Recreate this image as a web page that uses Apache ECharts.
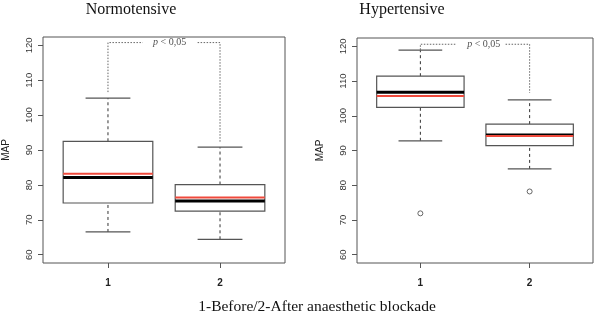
<!DOCTYPE html>
<html>
<head>
<meta charset="utf-8">
<script src="https://cdn.jsdelivr.net/npm/echarts@6/dist/echarts.min.js"></script>
<style>
  html, body { margin: 0; padding: 0; background: #fff; }
  #chart { width: 600px; height: 314px; }
</style>
</head>
<body>
<div id="chart"></div>
<script>
// groups on the x axis
const groups = [1, 2];
const yTicks = [60, 70, 80, 90, 100, 110, 120];

// box stats: [min, q1, median, q3, max]
const normoBoxes = [
  [66.5, 74.8, 82.1, 92.5, 104.9],
  [64.4, 72.5, 75.4, 80.1, 90.8]
];
const normoMeans = [83.2, 76.4];
const normoOutliers = [];

const hyperBoxes = [
  [92.8, 102.4, 106.8, 111.4, 118.9],
  [84.7, 91.4, 94.5, 97.6, 104.6]
];
const hyperMeans = [105.7, 94.2];
const hyperOutliers = [[1, 71.9], [2, 78.2]];

// significance brackets (dotted) and their labels
const normoBracketA = [[1, 106.6], [1, 120.8], [1.31, 120.8]];
const normoBracketB = [[1.8, 120.8], [2, 120.8], [2, 92.1]];
const normoP = [[1.55, 120.8]];
const hyperBracketA = [[1, 119], [1, 120.6], [1.33, 120.6]];
const hyperBracketB = [[1.78, 120.6], [2, 120.6], [2, 106.6]];
const hyperP = [[1.58, 120.6]];

const chart = echarts.init(document.getElementById('chart'));

function boxRender(means) {
  return function (params, api) {
    const x = api.value(0);
    const vals = [1, 2, 3, 4, 5].map(i => api.value(i));
    const half = 0.4, cap = 0.2;
    const p = v => api.coord([x, v]);
    const pl = (xx, v) => api.coord([xx, v]);
    const ln = (a, b, style) => ({ type: 'line', shape: { x1: a[0], y1: a[1], x2: b[0], y2: b[1] }, style });
    const dash = { stroke: '#333', lineWidth: 1, lineDash: [3, 3] };
    const solid = { stroke: '#555', lineWidth: 1.2 };
    const tl = pl(x - half, vals[3]);
    const br = pl(x + half, vals[1]);
    const mean = means[params.dataIndex];
    return {
      type: 'group',
      children: [
        ln(p(vals[0]), p(vals[1]), dash),
        ln(p(vals[3]), p(vals[4]), dash),
        ln(pl(x - cap, vals[0]), pl(x + cap, vals[0]), solid),
        ln(pl(x - cap, vals[4]), pl(x + cap, vals[4]), solid),
        { type: 'rect', shape: { x: tl[0], y: tl[1], width: br[0] - tl[0], height: br[1] - tl[1] },
          style: { fill: '#fff', stroke: '#555', lineWidth: 1.2 } },
        ln(pl(x - half, vals[2]), pl(x + half, vals[2]), { stroke: '#000', lineWidth: 3 }),
        ln(pl(x - half, mean), pl(x + half, mean), { stroke: '#f04a3c', lineWidth: 2 })
      ]
    };
  };
}

function xAxis(gi) {
  return {
    gridIndex: gi, type: 'value', min: 0.42, max: 2.58,
    splitLine: { show: false },
    axisLine: { show: false },
    axisTick: { show: true, length: 5, customValues: groups, lineStyle: { color: '#555' } },
    axisLabel: { customValues: groups, color: '#222', fontSize: 10, fontWeight: 'bold',
      fontFamily: 'Liberation Sans', margin: 15 }
  };
}
function yAxis(gi) {
  return {
    gridIndex: gi, type: 'value', min: 57.6, max: 122.4,
    name: 'MAP', nameLocation: 'middle', nameGap: 32, nameRotate: 90,
    nameTextStyle: { fontSize: 10, color: '#222', fontFamily: 'Liberation Sans' },
    splitLine: { show: false },
    axisLine: { show: false },
    axisTick: { show: true, length: 5, customValues: yTicks, lineStyle: { color: '#555' } },
    axisLabel: { customValues: yTicks, rotate: 90, color: '#333', fontSize: 9.5,
      fontFamily: 'Liberation Sans', margin: 9 }
  };
}

function dotted(gi, data) {
  return {
    type: 'line', xAxisIndex: gi, yAxisIndex: gi, data, symbol: 'none', silent: true,
    lineStyle: { type: [1.5, 1.5], color: '#666', width: 1 }, z: 1
  };
}
function pLabel(gi, data) {
  return {
    type: 'scatter', xAxisIndex: gi, yAxisIndex: gi, data, symbolSize: 0, silent: true,
    label: {
      show: true, position: 'inside',
      formatter: '{i|p} < 0,05',
      fontFamily: 'Liberation Serif', fontSize: 10, color: '#222',
      rich: { i: { fontStyle: 'italic', fontFamily: 'Liberation Serif', fontSize: 10, color: '#222' } }
    }
  };
}

function caption(x, y, text, size) {
  return {
    type: 'text', x, y,
    style: { text, font: size + 'px "Liberation Serif"', fill: '#111', align: 'center', verticalAlign: 'top' }
  };
}

chart.setOption({
  animation: false,
  backgroundColor: '#fff',
  grid: [
    { left: 43, right: 315, top: 37, bottom: 51, show: true, borderColor: '#555', borderWidth: 1 },
    { left: 357, right: 7, top: 38, bottom: 51, show: true, borderColor: '#555', borderWidth: 1 }
  ],
  xAxis: [xAxis(0), xAxis(1)],
  yAxis: [yAxis(0), yAxis(1)],
  graphic: [
    caption(131, 2, 'Normotensive', 16),
    caption(402, 2, 'Hypertensive', 16),
    caption(317, 299, '1-Before/2-After anaesthetic blockade', 15.5)
  ],
  series: [
    dotted(0, normoBracketA), dotted(0, normoBracketB), pLabel(0, normoP),
    dotted(1, hyperBracketA), dotted(1, hyperBracketB), pLabel(1, hyperP),
    {
      type: 'custom', xAxisIndex: 0, yAxisIndex: 0, z: 3,
      renderItem: boxRender(normoMeans),
      data: groups.map((g, i) => [g].concat(normoBoxes[i]))
    },
    {
      type: 'custom', xAxisIndex: 1, yAxisIndex: 1, z: 3,
      renderItem: boxRender(hyperMeans),
      data: groups.map((g, i) => [g].concat(hyperBoxes[i]))
    },
    {
      type: 'scatter', xAxisIndex: 0, yAxisIndex: 0, data: normoOutliers,
      symbol: 'circle', symbolSize: 5, itemStyle: { color: '#fff', borderColor: '#444', borderWidth: 1 }
    },
    {
      type: 'scatter', xAxisIndex: 1, yAxisIndex: 1, data: hyperOutliers, z: 4,
      symbol: 'circle', symbolSize: 5, itemStyle: { color: '#fff', borderColor: '#444', borderWidth: 1 }
    }
  ]
});
</script>
</body>
</html>
